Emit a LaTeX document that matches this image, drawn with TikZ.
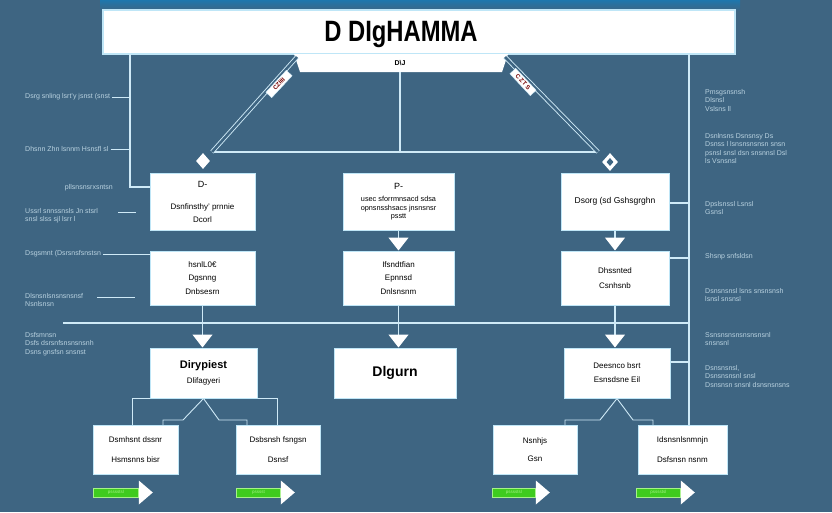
\documentclass[tikz,border=0pt]{standalone}
\usepackage{fontspec}
\setmainfont{Liberation Sans}
\usetikzlibrary{arrows.meta,shapes.geometric,calc}
\definecolor{bgc}{HTML}{3E6582}
\definecolor{linec}{HTML}{CFEAF7}
\definecolor{edgec}{HTML}{BFE6F7}
\definecolor{labc}{HTML}{B9D2E0}
\definecolor{gfill}{HTML}{3FCB1F}
\definecolor{gedge}{HTML}{A6F288}
\definecolor{topc}{HTML}{1E77AD}
\begin{document}
\begin{tikzpicture}[x=1pt,y=-1pt,
 box/.style={draw=edgec,fill=white,line width=1pt,align=center,inner sep=0pt,font=\fontsize{8}{13}\selectfont},
 conn/.style={draw=linec,line width=1.2pt},
 thinconn/.style={draw=linec,line width=0.9pt},
 arr/.style={conn,-{Triangle[width=20pt,length=13pt,color=white]}},
 dbl/.style={draw=linec,line width=0.9pt,double=bgc,double distance=2.6pt},
 lbl/.style={text=labc,font=\fontsize{7}{8.5}\selectfont,inner sep=0pt,align=left},
 gbar/.style={fill=gfill,draw=gedge,line width=0.8pt,minimum height=9pt,inner sep=0pt,text=gedge,font=\fontsize{4.5}{4.5}\selectfont,anchor=west},
 dlabel/.style={fill=white,draw=linec,inner sep=0.5pt,minimum width=30pt,minimum height=8pt,font=\fontsize{6}{6}\selectfont\bfseries,text=red!45!black},
]
\useasboundingbox (0,0) rectangle (832,512);
\fill[bgc] (0,0) rectangle (832,512);
\shade[top color=topc,bottom color=bgc] (100,0) rectangle (740,11);

% title
\node[draw=edgec,fill=white,line width=1.5pt,minimum width=632pt,minimum height=44pt,inner sep=0pt] (title) at (419,32) {};
\node[font=\fontsize{28}{28}\selectfont\bfseries,xscale=0.85,yscale=1.05,inner sep=0pt] (ttext) at (401,34) {D DIgHAMMA};
\fill[white] (294,54) -- (508,54) -- (502,72) -- (300,72) -- cycle;
\node[font=\fontsize{7}{7}\selectfont\bfseries,inner sep=0pt] (trap) at (400,63) {D\textbackslash J};

% top distribution
\coordinate (tb) at (400,72);
\coordinate (hc) at (400,152);
\coordinate (hl) at (212,152);
\coordinate (hr) at (598,152);
\coordinate (dl0) at (297,57);
\coordinate (dr0) at (505,57);
\draw[conn] (tb) -- (hc);
\draw[conn] (hl) -- (hr);
\draw[dbl] (dl0) -- (hl);
\draw[dbl] (dr0) -- (hr);
\node[dlabel,rotate=47] (dlL) at (279,84) {CZIIII};
\node[dlabel,rotate=-47] (dlR) at (523,82) {C\,Z\,T\,S};
\node[diamond,fill=white,minimum width=14pt,minimum height=16pt,inner sep=0pt] (dmL) at (203,161) {};
\node[diamond,fill=white,minimum width=16pt,minimum height=18pt,inner sep=0pt] (dmR) at (610,162) {};
\node[diamond,fill=bgc,minimum width=7pt,minimum height=8pt,inner sep=0pt] (dmRin) at (610,162) {};

% row 1
\node[box,minimum width=105pt,minimum height=57pt] (B1) at (202.5,201.5) {{\fontsize{9}{9}\selectfont D-}\\[9pt]Dsnfinsthy' prnnie\\Dcorl};
\node[box,minimum width=111pt,minimum height=57pt,font=\fontsize{7.3}{8.5}\selectfont] (B2) at (398.5,201.5) {{\fontsize{9}{9}\selectfont P-}\\[4pt]usec sforrmnsacd sdsa\\opnsnsshsacs jnsnsnsr\\psstt};
\node[box,minimum width=108pt,minimum height=57pt,font=\fontsize{8.5}{10}\selectfont] (B3) at (615,201.5) {Dsorg (sd Gshsgrghn};
% row 2
\node[box,minimum width=105pt,minimum height=54pt,font=\fontsize{8}{13.5}\selectfont] (B4) at (202.5,278) {hsnlL0€\\Dgsnng\\Dnbsesrn};
\node[box,minimum width=111pt,minimum height=54pt,font=\fontsize{8}{13.5}\selectfont] (B5) at (398.5,278) {Ifsndtfian\\Epnnsd\\Dnlsnsnm};
\node[box,minimum width=108pt,minimum height=54pt,font=\fontsize{8}{15}\selectfont] (B6) at (615,278) {Dhssnted\\Csnhsnb};
% row 3
\node[box,minimum width=107pt,minimum height=50pt] (B7) at (203.5,373) {{\fontsize{11}{11}\selectfont\bfseries Dirypiest}\\[2pt]Dlifagyeri};
\node[box,minimum width=122pt,minimum height=50pt,font=\fontsize{14}{14}\selectfont\bfseries] (B8) at (395,373) {Dlgurn};
\node[box,minimum width=106pt,minimum height=50pt,font=\fontsize{8}{14}\selectfont] (B9) at (617,373) {Deesnco bsrt\\Esnsdsne Eil};
% row 4
\node[box,minimum width=85pt,minimum height=49pt,font=\fontsize{8}{20}\selectfont] (B10) at (135.5,449.5) {Dsmhsnt dssnr\\Hsmsnns bisr};
\node[box,minimum width=84pt,minimum height=49pt,font=\fontsize{8}{20}\selectfont] (B11) at (278,449.5) {Dsbsnsh fsngsn\\Dsnsf};
\node[box,minimum width=84pt,minimum height=49pt,font=\fontsize{8}{18}\selectfont] (B12) at (535,449.5) {Nsnhjs\\Gsn};
\node[box,minimum width=89pt,minimum height=49pt,font=\fontsize{8}{20}\selectfont] (B13) at (682.5,449.5) {Idsnsnlsnmnjn\\Dsfsnsn nsnm};

% box connectors
\draw[arr] (B2.south) -- (B5.north);
\draw[arr] (B3.south) -- (B6.north);
\draw[arr] (B4.south) -- (B4.south |- B7.north);
\draw[arr] (B5.south) -- (B5.south |- B8.north);
\draw[arr] (B6.south) -- (B6.south |- B9.north);

\coordinate (a1) at (132,425);
\coordinate (a2) at (277,425);
\draw[thinconn] (a1) |- (B7.south west);
\draw[thinconn] (a2) |- (B7.south east);
\draw[thinconn] (B7.south) -- (183,420) -- (163,420) -- (163,425);
\draw[thinconn] (B7.south) -- (219,420) -- (247,420) -- (247,425);
\draw[thinconn] (B9.south) -- (600,420) -- (565,420) -- (565,425);
\draw[thinconn] (B9.south) -- (633,420) -- (653,420) -- (653,425);

% left frame
\coordinate (lfT) at (130,54);
\coordinate (lfB) at (130,187);
\draw[conn] (lfT) -- (lfB) -- (B1.west |- lfB);

\node[lbl,anchor=west] (L1) at (25,97) {Dsrg snling lsrt'y jsnst (snst};
\node[lbl,anchor=west] (L2) at (25,149) {Dhsnn Zhn lsnnm Hsnsfl sl};
\node[lbl,anchor=east] (L3) at (113,188) {pllsnsnsrxsntsn};
\node[lbl,anchor=north west] (L4) at (25,208) {Ussrl snnssnsls Jn stsrl\\snsl slss sjl lsrr l};
\node[lbl,anchor=west] (L5) at (25,254) {Dsgsmnt (Dsrsnsfsnstsn};
\node[lbl,anchor=north west] (L6) at (25,293) {Dlsnsnlsnsnsnsnsf\\Nsnlsnsn};
\node[lbl,anchor=north west] (L7) at (25,332) {Dsfsmnsn\\Dsfs dsrsnfsnsnsnsnh\\Dsns gnsfsn snsnst};

\draw[thinconn] ([xshift=2pt]L1.east) -- (L1.east -| lfT);
\draw[thinconn] ([xshift=2pt]L2.east) -- (L2.east -| lfT);
\coordinate (l4s) at (118,212);
\coordinate (l4e) at (136,212);
\draw[thinconn] (l4s) -- (l4e);
\draw[thinconn] ([xshift=2pt]L5.east) -- (L5.east -| B4.west);
\coordinate (l6s) at (97,297);
\coordinate (l6e) at (135,297);
\draw[thinconn] (l6s) -- (l6e);
\coordinate (hlL) at (63,323);
\coordinate (hlR) at (689,323);
\draw[conn] (hlL) -- (hlR);

% right frame
\coordinate (rfT) at (689,54);
\draw[conn] (rfT) -- (rfT |- B13.north);
\coordinate (r3) at (689,203);
\coordinate (r6) at (689,258);
\coordinate (r9) at (689,362);
\draw[conn] (B3.east |- r3) -- (r3);
\draw[conn] (B6.east |- r6) -- (r6);
\draw[conn] (B9.east |- r9) -- (r9);

\node[lbl,anchor=north west] (R1) at (705,89) {Pmsgsnsnsh\\Dlsnsl\\Vslsns ll};
\node[lbl,anchor=north west] (R2) at (705,133) {Dsnlnsns Dsnsnsy Ds\\Dsnss l lsnsnsnsnsn snsn\\psnsl snsl dsn snsnnsl Dsl\\ls Vsnsnsl};
\node[lbl,anchor=north west] (R3) at (705,201) {Dpslsnssl Lsnsl\\Gsnsl};
\node[lbl,anchor=north west] (R4) at (705,253) {Shsnp snfsldsn};
\node[lbl,anchor=north west] (R5) at (705,288) {Dsnsnsnsl lsns snsnsnsh\\lsnsl snsnsl};
\node[lbl,anchor=north west] (R6) at (705,332) {Ssnsnsnsnsnsnsnsnl\\snsnsnl};
\node[lbl,anchor=north west] (R7) at (705,365) {Dsnsnsnsl,\\Dsnsnsnsnl snsl\\Dsnsnsn snsnl dsnsnsnsns};

% green arrows
\node[gbar,minimum width=45pt] (G1) at (93,492.5) {psssstsl};
\node[gbar,minimum width=44pt] (G2) at (236,492.5) {psssst};
\node[gbar,minimum width=43pt] (G3) at (492,492.5) {psssstsl};
\node[gbar,minimum width=44pt] (G4) at (636,492.5) {psssstsl};
\foreach \g in {G1,G2,G3,G4}{
  \fill[white] ([yshift=12pt]\g.east) -- ([xshift=14pt]\g.east) -- ([yshift=-12pt]\g.east) -- cycle;
}
\end{tikzpicture}
\end{document}
